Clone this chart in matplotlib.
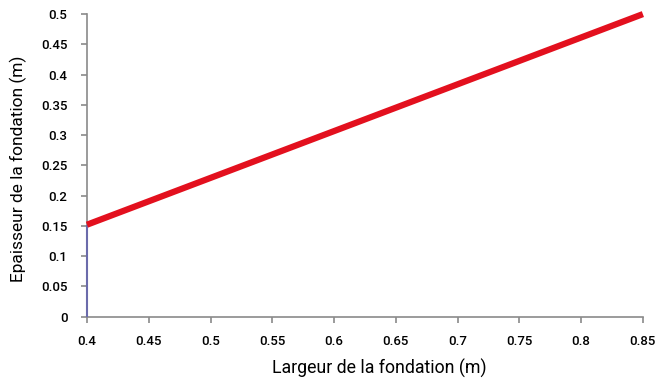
import matplotlib.pyplot as plt

largeur = [0.4, 0.85]
epaisseur = [0.152, 0.5]
trait_x = [0.4, 0.4]
trait_y = [0.0, 0.152]

xticks = [0.4, 0.45, 0.5, 0.55, 0.6, 0.65, 0.7, 0.75, 0.8, 0.85]
yticks = [0, 0.05, 0.1, 0.15, 0.2, 0.25, 0.3, 0.35, 0.4, 0.45, 0.5]

plt.rcParams["font.family"] = ["Roboto", "DejaVu Sans"]
plt.rcParams["font.weight"] = "medium"

fig = plt.figure(figsize=(6.56, 3.81), dpi=100)
ax = fig.add_axes([0.1326, 0.1688, 0.8474, 0.7942])

ax.plot(trait_x, trait_y, color="#6b6bab", linewidth=1.5, solid_capstyle="butt",
        zorder=4, clip_on=False)
ax.plot(largeur, epaisseur, color="#e3101e", linewidth=4.5, solid_capstyle="butt",
        zorder=5, clip_on=False)

ax.set_xlim(0.4, 0.85)
ax.set_ylim(0, 0.5)
ax.set_xticks(xticks)
ax.set_xticklabels([f"{v:g}" for v in xticks])
ax.set_yticks(yticks)
ax.set_yticklabels([f"{v:g}" for v in yticks])

for side in ["top", "right"]:
    ax.spines[side].set_visible(False)
for side in ["left", "bottom"]:
    ax.spines[side].set_color("#8a8a8a")
    ax.spines[side].set_linewidth(1.2)
ax.tick_params(colors="#8a8a8a", length=4, width=1.2, labelcolor="black", labelsize=9.5)
ax.tick_params(axis="x", pad=9)
ax.tick_params(axis="y", pad=10)

ax.set_xlabel("Largeur de la fondation (m)", fontsize=12.8)
ax.set_ylabel("Epaisseur de la fondation (m)", fontsize=12.5)
ax.xaxis.set_label_coords(0.526, -0.14)
ax.yaxis.set_label_coords(-0.108, 0.49)

plt.savefig("out.png", dpi=100)
